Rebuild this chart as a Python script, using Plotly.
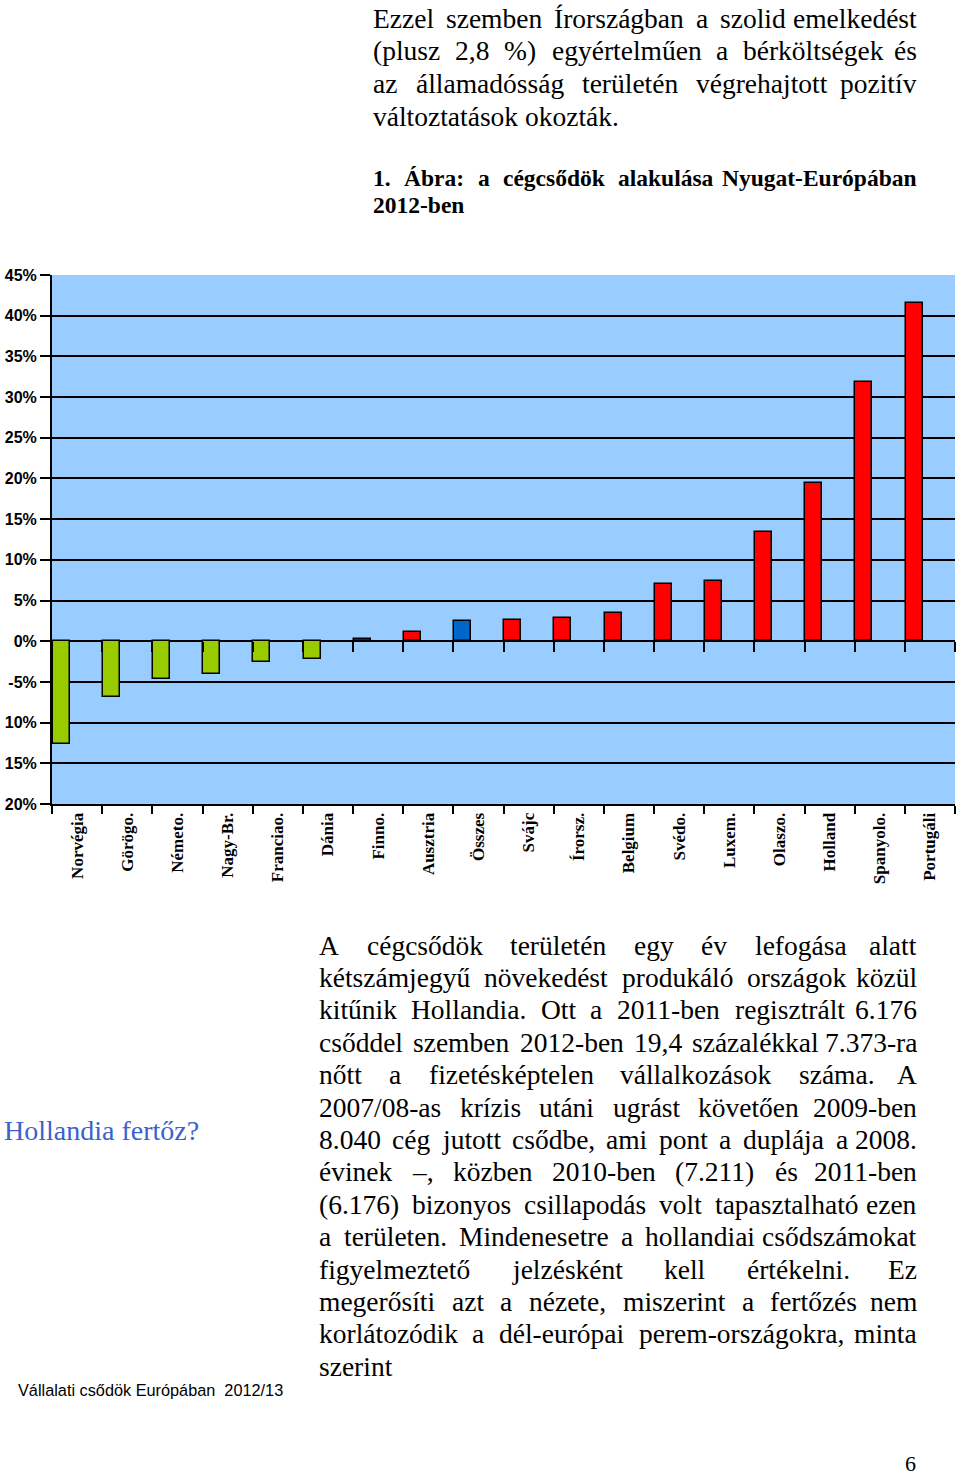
import plotly.graph_objects as go

# ---------------- data ----------------
categories = ["Norvégia", "Görögo.", "Németo.", "Nagy-Br.", "Franciao.", "Dánia",
              "Finno.", "Ausztria", "Összes", "Svájc", "Írorsz.", "Belgium",
              "Svédo.", "Luxem.", "Olaszo.", "Holland", "Spanyolo.", "Portugáli"]
values = [-12.6, -6.8, -4.7, -4.0, -2.5, -2.2, 0.3, 1.1, 2.5, 2.6, 2.8, 3.5,
          7.0, 7.4, 13.4, 19.4, 31.9, 41.6]
groups = ["neg"] * 6 + ["pos"] * 2 + ["total"] + ["pos"] * 9
group_colors = {"neg": "#99CC00", "pos": "#FF0000", "total": "#0066CC"}

ytick_vals = [-20, -15, -10, -5, 0, 5, 10, 15, 20, 25, 30, 35, 40, 45]
ytick_text = ["20%", "15%", "10%", "-5%", "0%", "5%", "10%", "15%", "20%",
              "25%", "30%", "35%", "40%", "45%"]

top_para = [
    "Ezzel szemben Írországban a szolid emelkedést",
    "(plusz 2,8 %) egyértelműen a bérköltségek és",
    "az államadósság területén végrehajtott pozitív",
    "változtatások okozták.",
]
caption = [
    "1. Ábra: a cégcsődök alakulása Nyugat-Európában",
    "2012-ben",
]
body_para = [
    "A cégcsődök területén egy év lefogása alatt",
    "kétszámjegyű növekedést produkáló országok közül",
    "kitűnik Hollandia. Ott a 2011-ben regisztrált 6.176",
    "csőddel szemben 2012-ben 19,4 százalékkal 7.373-ra",
    "nőtt a fizetésképtelen vállalkozások száma. A",
    "2007/08-as krízis utáni ugrást követően 2009-ben",
    "8.040 cég jutott csődbe, ami  pont a duplája a 2008.",
    "évinek –, közben 2010-ben (7.211) és 2011-ben",
    "(6.176) bizonyos csillapodás volt tapasztalható ezen",
    "a területen. Mindenesetre a hollandiai csődszámokat",
    "figyelmeztető jelzésként kell értékelni. Ez",
    "megerősíti azt a nézete, miszerint a fertőzés nem",
    "korlátozódik a dél-európai perem-országokra, minta",
    "szerint",
]
side_heading = "Hollandia fertőz?"
source_note = "Vállalati csődök Európában  2012/13"
page_number = "6"

# ---------------- layout geometry ----------------
W, H = 960, 1477
L, R, T, B = 49, 955, 275, 804


def px(x):
    return (x - L) / (R - L)


def py(y):
    return (B - y) / (B - T)


# Times-compatible glyph widths (em)
REG = {c: 0.5 for c in "bdghknopquvxy0123456789"}
REG.update({c: 0.444 for c in "acez"})
REG.update({"f": 0.333, "r": 0.333, "i": 0.278, "j": 0.278, "l": 0.278, "t": 0.278,
            "m": 0.778, "s": 0.389, "w": 0.722, " ": 0.25, ".": 0.25, ",": 0.25,
            "(": 0.333, ")": 0.333, "%": 0.833, "-": 0.333, "/": 0.278, "–": 0.5,
            ":": 0.278, "?": 0.444,
            "A": 0.722, "B": 0.667, "C": 0.667, "D": 0.722, "E": 0.611, "F": 0.556,
            "G": 0.722, "H": 0.722, "I": 0.333, "J": 0.389, "K": 0.722, "L": 0.611,
            "M": 0.889, "N": 0.722, "O": 0.722, "P": 0.556, "R": 0.667, "S": 0.556,
            "T": 0.611, "U": 0.722, "V": 0.722, "W": 0.944, "Y": 0.722, "Z": 0.611})
BOLD = {c: 0.5 for c in "agovxy0123456789"}
BOLD.update({c: 0.556 for c in "bdhknpqu"})
BOLD.update({"c": 0.444, "e": 0.444, "z": 0.444, "r": 0.444, "f": 0.333, "j": 0.333,
             "t": 0.333, "i": 0.278, "l": 0.278, "m": 0.833, "s": 0.389, "w": 0.722,
             " ": 0.25, ".": 0.25, ",": 0.25, "-": 0.333, ":": 0.333,
             "A": 0.722, "B": 0.667, "E": 0.667, "N": 0.722, "Y": 0.722})
BASE = str.maketrans("áéíóöőúüűÁÉÍÓÖŐÚÜŰ", "aeiooouuuAEIOOOUUU")


def wwidth(word, table):
    return sum(table.get(ch, 0.5) for ch in word.translate(BASE))


annotations = []


def add_line(line, x0, x1, ypx, size, bold=False, justify=True,
             family="Liberation Serif", color="black"):
    table = BOLD if bold else REG
    font = dict(family=family, size=size, color=color,
                weight="bold" if bold else "normal")
    words = line.split()
    if not justify or len(words) < 2:
        annotations.append(dict(text=line, x=px(x0), y=py(ypx), xref="paper",
                                yref="paper", xanchor="left", yanchor="middle",
                                showarrow=False, font=font))
        return
    ws = [wwidth(w, table) * size for w in words]
    gap = (x1 - x0 - sum(ws)) / (len(words) - 1)
    x = x0
    for i, (w, wd) in enumerate(zip(words, ws)):
        if i == len(words) - 1:
            annotations.append(dict(text=w, x=px(x1), y=py(ypx), xref="paper",
                                    yref="paper", xanchor="right", yanchor="middle",
                                    showarrow=False, font=font))
        else:
            annotations.append(dict(text=w, x=px(x), y=py(ypx), xref="paper",
                                    yref="paper", xanchor="left", yanchor="middle",
                                    showarrow=False, font=font))
        x += wd + gap


for i, line in enumerate(top_para):
    add_line(line, 369, 919, 18 + 32.7 * i, 27.5, justify=i < len(top_para) - 1)
for i, line in enumerate(caption):
    add_line(line, 369, 919, 178 + 27 * i, 23.5, bold=True, justify=i == 0)
for i, line in enumerate(body_para):
    add_line(line, 315, 919, 945 + 32.4 * i, 27.5, justify=i < len(body_para) - 1)

add_line(side_heading, -1, 0, 1130, 28, justify=False, color="#3A62CC")
add_line(source_note, 13, 0, 1390, 16.3, justify=False, family="Liberation Sans")
add_line(page_number, 903, 0, 1463, 22, justify=False)

# ---------------- figure ----------------
fig = go.Figure()
fig.add_trace(go.Bar(
    x=categories, y=values,
    marker=dict(color=[group_colors[g] for g in groups],
                line=dict(color="black", width=1.5)),
    width=0.34, offset=-0.485, hoverinfo="x+y",
))
# helper trace for the tick marks on the zero line
fig.add_trace(go.Scatter(x=categories, y=values, xaxis="x2", mode="markers",
                         marker=dict(opacity=0), hoverinfo="skip",
                         showlegend=False))

fig.update_layout(
    width=W, height=H,
    margin=dict(l=L, r=W - R, t=T, b=H - B, pad=0),
    paper_bgcolor="white", plot_bgcolor="#99CCFF",
    showlegend=False, bargap=0,
    annotations=annotations,
    xaxis=dict(type="category", categoryorder="array", categoryarray=categories,
               range=[-0.5, len(categories) - 0.5],
               showgrid=False, zeroline=False,
               showline=True, linecolor="black", linewidth=2,
               ticks="outside", tickson="boundaries", ticklen=8, tickwidth=2,
               tickcolor="black", tickangle=-90,
               tickfont=dict(family="Liberation Serif", size=17, color="black",
                             weight="bold")),
    xaxis2=dict(type="category", categoryorder="array", categoryarray=categories,
                range=[-0.5, len(categories) - 0.5], overlaying="x",
                anchor="free", position=(0 - ytick_vals[0]) / (ytick_vals[-1] - ytick_vals[0]),
                side="bottom", showgrid=False, zeroline=False, showline=False,
                ticks="outside", tickson="boundaries", ticklen=10, tickwidth=2,
                tickcolor="black", showticklabels=False),
    xaxis3=dict(overlaying="x", side="top", anchor="y", showline=True,
                linecolor="#8C8C8C", linewidth=2, showgrid=False, zeroline=False,
                showticklabels=False, ticks=""),
    yaxis=dict(range=[ytick_vals[0], ytick_vals[-1]], tickvals=ytick_vals,
               ticktext=ytick_text, showgrid=True, gridcolor="black", gridwidth=1.8,
               zeroline=False, showline=True, linecolor="black", linewidth=2,
               ticks="outside", ticklen=10, tickwidth=2, tickcolor="black",
               tickfont=dict(family="Liberation Sans", size=16, color="black",
                             weight="bold")),
    yaxis3=dict(overlaying="y", side="right", anchor="x", showline=True,
                linecolor="#8C8C8C", linewidth=2, showgrid=False, zeroline=False,
                showticklabels=False, ticks=""),
)

fig.write_html("out.html", config={"displayModeBar": False},
               post_script="document.body.style.margin='0';"
                           "document.documentElement.style.overflow='hidden';")
